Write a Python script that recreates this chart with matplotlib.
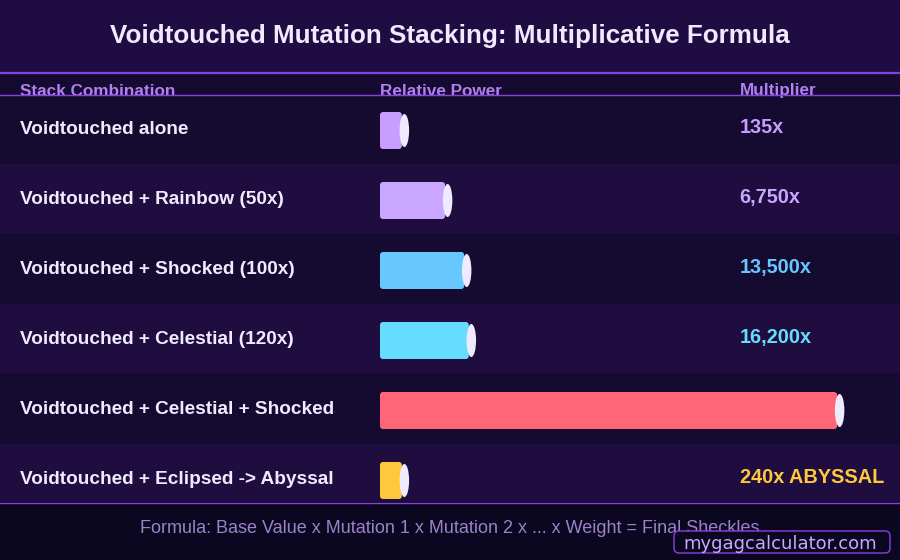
import matplotlib
matplotlib.use("Agg")
import matplotlib.pyplot as plt
from matplotlib.patches import Ellipse, FancyBboxPatch

# ---- data ----
title = "Voidtouched Mutation Stacking: Multiplicative Formula"
headers = ["Stack Combination", "Relative Power", "Multiplier"]
combos = [
    "Voidtouched alone",
    "Voidtouched + Rainbow (50x)",
    "Voidtouched + Shocked (100x)",
    "Voidtouched + Celestial (120x)",
    "Voidtouched + Celestial + Shocked",
    "Voidtouched + Eclipsed -> Abyssal",
]
relative_power = [4.7, 14.0, 18.1, 19.1, 98.3, 4.7]   # % of bar track
multipliers = ["135x", "6,750x", "13,500x", "16,200x", "", "240x ABYSSAL"]
bar_colors = ["#c99cff", "#c9a6ff", "#66c8ff", "#66ddff", "#ff6678", "#ffc83d"]
footer = "Formula: Base Value x Mutation 1 x Mutation 2 x ... x Weight = Final Sheckles"
watermark = "mygagcalculator.com"

FONT = "Liberation Sans"
W, H = 900, 560
ROW0, ROWH = 94, 70

fig = plt.figure(figsize=(9, 5.6), dpi=100)
fig.patch.set_facecolor("#160c33")
bg = fig.add_axes([0, 0, 1, 1])
bg.set_xlim(0, W)
bg.set_ylim(H, 0)
bg.axis("off")

# backgrounds
bg.axhspan(0, 73, color="#1e0c42", zorder=0)
bg.axhspan(73, ROW0, color="#150b30", zorder=0)
for i in range(len(combos)):
    c = "#150b30" if i % 2 == 0 else "#1e0d3e"
    bg.axhspan(ROW0 + ROWH * i, ROW0 + ROWH * (i + 1), color=c, zorder=0)
bg.axhspan(502, H, color="#0c0720", zorder=1)

# lines
bg.plot([0, W], [73, 73], color="#8a3fe0", lw=1.6, zorder=3)
bg.plot([0, W], [94.5, 94.5], color="#8a3fe0", lw=1.0, zorder=3)
bg.plot([0, W], [502.5, 502.5], color="#8a3fe0", lw=1.0, zorder=3)

# title
bg.text(450, 43.5, title, ha="center", va="baseline", fontsize=18.7,
        fontweight="bold", color="#f0eaff", family=FONT, zorder=4)

# headers
hx = [20, 380, 740]
for x, h in zip(hx, headers):
    bg.text(x, 95.5, h, ha="left", va="baseline", fontsize=12.3,
            fontweight="bold", color="#b080f0", family=FONT, zorder=2)

# rows
for i, (lab, m, c) in enumerate(zip(combos, multipliers, bar_colors)):
    yb = 134 + ROWH * i
    bg.text(20, yb, lab, ha="left", va="baseline", fontsize=13.7,
            fontweight="bold", color="#f0eaff", family=FONT, zorder=4)
    if m:
        bg.text(739.5, yb - 1, m, ha="left", va="baseline", fontsize=14.3,
                fontweight="bold", color=c, family=FONT, zorder=4)

# bars
bx = fig.add_axes([380 / W, 0, 465 / W, 1])
bx.set_xlim(0, 100)
bx.set_ylim(H, 0)
bx.axis("off")
bx.patch.set_alpha(0)
centers = [ROW0 + ROWH * i + 36.5 for i in range(len(combos))]
bars = bx.barh(centers, relative_power, height=37, color=bar_colors, zorder=2)
unit = 100 / 465
for b, v, y in zip(bars, relative_power, centers):
    b.set_visible(False)
    rb = FancyBboxPatch((b.get_x(), b.get_y()), b.get_width(), b.get_height(),
                        boxstyle=f"round,pad=0,rounding_size={3*unit}",
                        mutation_aspect=1 / unit, facecolor=b.get_facecolor(),
                        edgecolor="none", zorder=2)
    bx.add_patch(rb)
    bx.add_patch(Ellipse((v + 2.5 * unit, y), 9.5 * unit, 33,
                         facecolor="#f0eaff", edgecolor="none", zorder=3))

# footer
bg.text(450, 533, footer, ha="center", va="baseline", fontsize=12.95,
        color="#9a82c8", family=FONT, zorder=4)

# watermark
wm = FancyBboxPatch((674, 531), 216, 22, boxstyle="round,pad=0,rounding_size=5",
                    facecolor="#0c0720", edgecolor="#8a3fe0", lw=1.0, zorder=5)
bg.add_patch(wm)
bg.text(780, 549, watermark, ha="center", va="baseline", fontsize=13.0,
        color="#c8a8ff", family="DejaVu Sans", zorder=6)

fig.savefig("out.png", dpi=100, facecolor=fig.get_facecolor())
